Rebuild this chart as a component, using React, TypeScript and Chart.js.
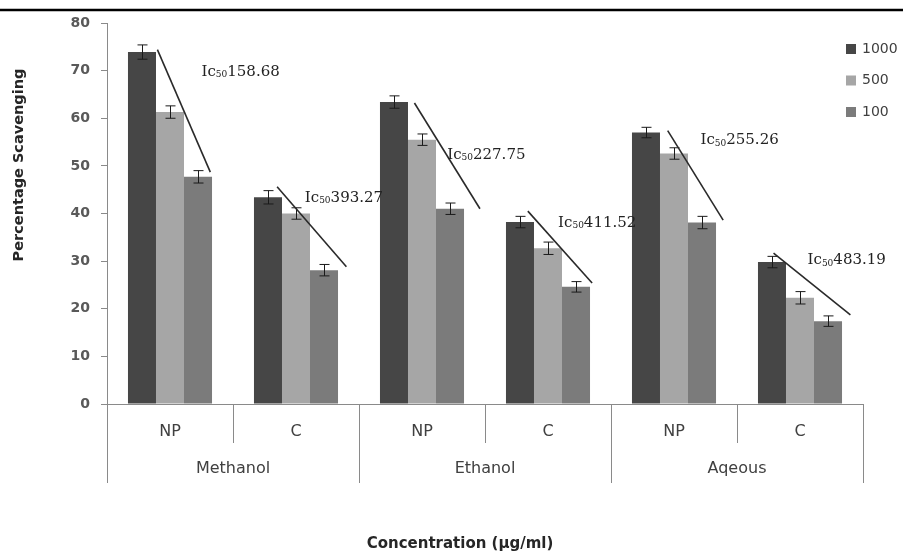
import React, { useEffect, useRef } from 'react';
import { Chart, registerables } from 'chart.js';

Chart.register(...registerables);

// ---- data ----
const categories = ['NP', 'C', 'NP', 'C', 'NP', 'C'];
const solvents = ['Methanol', 'Ethanol', 'Aqeous'];
const seriesLabels = ['1000', '500', '100'];
const values1000 = [73.9, 43.4, 63.4, 38.2, 57.0, 29.8];
const values500 = [61.3, 40.0, 55.5, 32.7, 52.6, 22.3];
const values100 = [47.7, 28.1, 41.0, 24.6, 38.1, 17.4];
const err1000 = [1.5, 1.4, 1.3, 1.2, 1.1, 1.2];
const err500 = [1.3, 1.2, 1.2, 1.3, 1.2, 1.3];
const err100 = [1.3, 1.2, 1.2, 1.1, 1.3, 1.1];
const ic50Values = ['158.68', '393.27', '227.75', '411.52', '255.26', '483.19'];
// trend line ends, in data units (offset from category centre, value)
const lineStartOffset = [-0.1, -0.15, -0.06, -0.16, -0.05, -0.21];
const lineStartValue = [74.4, 45.6, 63.2, 40.5, 57.4, 31.7];
const lineEndOffset = [0.32, 0.4, 0.46, 0.35, 0.39, 0.4];
const lineEndValue = [48.7, 28.8, 41.0, 25.4, 38.6, 18.7];
// IC50 label anchors (left edge offset, centre value)
const labelOffset = [0.25, 0.07, 0.2, 0.08, 0.21, 0.06];
const labelValue = [69.7, 43.3, 52.3, 38.0, 55.4, 30.2];
const yMin = 0;
const yMax = 80;
const yStep = 10;

const colors = ['#464646', '#a6a6a6', '#7b7b7b'];
const axisGray = '#8a8a8a';
const textGray = '#404040';

const decor = {
  id: 'decor',
  afterDatasetsDraw(chart: any) {
    const ctx = chart.ctx;
    const xs = chart.scales.x;
    const ys = chart.scales.y;
    ctx.save();
    // error bars
    ctx.strokeStyle = '#1a1a1a';
    ctx.lineWidth = 1;
    chart.data.datasets.forEach((ds: any, di: number) => {
      const meta = chart.getDatasetMeta(di);
      meta.data.forEach((bar: any, i: number) => {
        const v = ds.data[i];
        const e = ds.errors[i];
        const px = Math.round(bar.x) + 0.5;
        const yt = ys.getPixelForValue(v + e);
        const yb = ys.getPixelForValue(v - e);
        ctx.beginPath();
        ctx.moveTo(px, yt);
        ctx.lineTo(px, yb);
        ctx.moveTo(px - 5, yt);
        ctx.lineTo(px + 5, yt);
        ctx.moveTo(px - 5, yb);
        ctx.lineTo(px + 5, yb);
        ctx.stroke();
      });
    });
    // trend lines and IC50 labels
    const cw = xs.getPixelForValue(1) - xs.getPixelForValue(0);
    ctx.strokeStyle = '#2a2a2a';
    ctx.lineWidth = 1.6;
    for (let i = 0; i < categories.length; i++) {
      const c = xs.getPixelForValue(i);
      ctx.beginPath();
      ctx.moveTo(c + lineStartOffset[i] * cw, ys.getPixelForValue(lineStartValue[i]));
      ctx.lineTo(c + lineEndOffset[i] * cw, ys.getPixelForValue(lineEndValue[i]));
      ctx.stroke();

      let lx = c + labelOffset[i] * cw;
      const ly = ys.getPixelForValue(labelValue[i]);
      ctx.fillStyle = '#222222';
      ctx.textBaseline = 'middle';
      ctx.textAlign = 'left';
      ctx.font = '15px "DejaVu Serif"';
      ctx.fillText('Ic', lx, ly);
      lx += ctx.measureText('Ic').width;
      ctx.font = '9px "DejaVu Serif"';
      ctx.fillText('50', lx, ly + 3);
      lx += ctx.measureText('50').width;
      ctx.font = '15px "DejaVu Serif"';
      ctx.fillText(ic50Values[i], lx, ly);
    }
    ctx.restore();
  },
  afterDraw(chart: any) {
    const ctx = chart.ctx;
    const xs = chart.scales.x;
    const area = chart.chartArea;
    const cw = xs.getPixelForValue(1) - xs.getPixelForValue(0);
    const axisY = area.bottom;
    ctx.save();
    // category separators
    ctx.strokeStyle = axisGray;
    ctx.lineWidth = 1;
    const x0 = xs.getPixelForValue(0) - cw / 2;
    for (let i = 0; i <= categories.length; i++) {
      const bx = Math.round(x0 + i * cw) + 0.5;
      ctx.beginPath();
      ctx.moveTo(bx, axisY);
      ctx.lineTo(bx, axisY + (i % 2 === 0 ? 79 : 39));
      ctx.stroke();
    }
    // solvent labels
    ctx.fillStyle = textGray;
    ctx.font = '16px "DejaVu Sans"';
    ctx.textAlign = 'center';
    ctx.textBaseline = 'middle';
    solvents.forEach((s, g) => {
      const cx = (xs.getPixelForValue(2 * g) + xs.getPixelForValue(2 * g + 1)) / 2;
      ctx.fillText(s, cx, axisY + 65);
    });
    // axis titles
    ctx.fillStyle = '#262626';
    ctx.font = 'bold 15px "DejaVu Sans"';
    ctx.fillText('Concentration (µg/ml)', 460, 544);
    ctx.save();
    ctx.translate(19, 165);
    ctx.rotate(-Math.PI / 2);
    ctx.font = 'bold 14.5px "DejaVu Sans"';
    ctx.fillText('Percentage Scavenging', 0, 0);
    ctx.restore();
    // legend
    ctx.font = '14px "DejaVu Sans"';
    ctx.textAlign = 'left';
    chart.data.datasets.forEach((ds: any, di: number) => {
      const cy = 49 + di * 31.5;
      ctx.fillStyle = ds.backgroundColor;
      ctx.fillRect(846, cy - 5, 10, 10);
      ctx.fillStyle = textGray;
      ctx.fillText(ds.label, 862, cy);
    });
    // top rule
    ctx.strokeStyle = '#000000';
    ctx.lineWidth = 2.5;
    ctx.beginPath();
    ctx.moveTo(0, 10);
    ctx.lineTo(chart.width, 10);
    ctx.stroke();
    ctx.restore();
  },
};

export default function App() {
  const ref = useRef<HTMLCanvasElement | null>(null);
  useEffect(() => {
    if (!ref.current) return;
    const series = [values1000, values500, values100];
    const errs = [err1000, err500, err100];
    const chart = new Chart(ref.current, {
      type: 'bar',
      data: {
        labels: categories,
        datasets: seriesLabels.map((l, i) => ({
          label: l,
          data: series[i],
          errors: errs[i],
          backgroundColor: colors[i],
          borderWidth: 0,
          categoryPercentage: 0.667,
          barPercentage: 1,
        })) as any,
      },
      options: {
        animation: false,
        responsive: false,
        layout: { padding: { top: 23, right: 40, left: 0, bottom: 0 } },
        plugins: { legend: { display: false }, tooltip: { enabled: false } },
        scales: {
          x: {
            afterFit: (s: any) => { s.height = 150; },
            grid: { display: false, drawTicks: false },
            border: { display: true, color: axisGray, width: 1 },
            ticks: {
              color: textGray,
              font: { family: '"DejaVu Sans"', size: 16 },
              padding: 18,
              autoSkip: false,
              maxRotation: 0,
            },
          },
          y: {
            min: yMin,
            max: yMax,
            afterFit: (s: any) => { s.width = 107; },
            ticks: {
              stepSize: yStep,
              color: '#595959',
              font: { family: '"DejaVu Sans"', size: 14, weight: 'bold' },
              padding: 11,
            },
            grid: { drawOnChartArea: false, tickLength: 6, color: axisGray },
            border: { display: true, color: axisGray, width: 1 },
          },
        },
      } as any,
      plugins: [decor],
    });
    return () => chart.destroy();
  }, []);
  return (
    <div style={{ position: 'fixed', left: 0, top: 0, width: 903, height: 554, background: '#fff' }}>
      <canvas ref={ref} width={903} height={554} style={{ display: 'block' }} />
    </div>
  );
}
